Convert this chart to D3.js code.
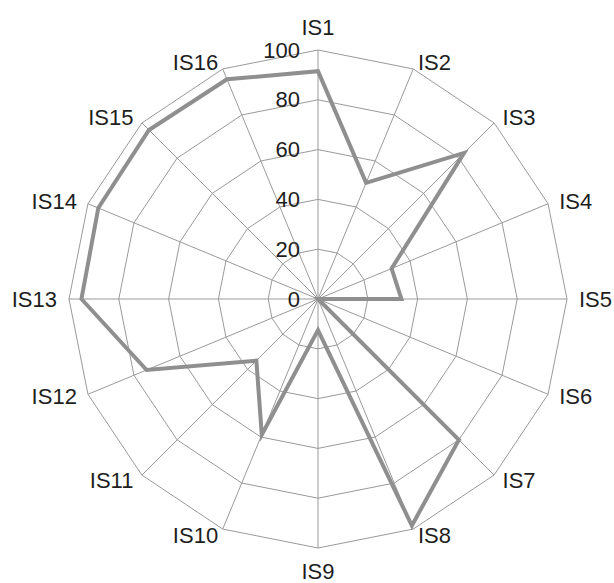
<!DOCTYPE html>
<html>
<head>
<meta charset="utf-8">
<script src="https://cdn.jsdelivr.net/npm/d3@7"></script>
<style>
  html, body { margin: 0; padding: 0; background: #fff; }
  svg text { font-family: "Liberation Sans", Arial, sans-serif; fill: #1e1e1e; }
</style>
</head>
<body>
<div id="radarDiv"></div>
<script>
// categories around the radar, clockwise from the top
var categories = ["IS1","IS2","IS3","IS4","IS5","IS6","IS7","IS8",
                  "IS9","IS10","IS11","IS12","IS13","IS14","IS15","IS16"];

// series values
var values = [91.5, 50.5, 83, 32, 33.5, 0, 80, 98.5,
              12.5, 59, 35, 74.5, 95, 95.5, 96, 95.5];

// ring ticks
var ticks = [0, 20, 40, 60, 80, 100];

var outerWidth = 614, outerHeight = 583;
var cx = 318, cy = 299, radius = 249;

var svg = d3.select("#radarDiv")
    .append("svg")
    .attr("width", outerWidth)
    .attr("height", outerHeight);

var g = svg.append("g")
    .attr("transform", "translate(" + cx + "," + cy + ")");

// radial scale
var r = d3.scaleLinear()
    .domain([0, 100])
    .range([0, radius]);

// angle scale, one step per category
var angle = d3.scaleLinear()
    .domain([0, categories.length])
    .range([0, 2 * Math.PI]);

function px(i, v) { return r(v) * Math.sin(angle(i)); }
function py(i, v) { return -r(v) * Math.cos(angle(i)); }

// ring polygons
var ringLine = d3.line()
    .x(function(d) { return d[0]; })
    .y(function(d) { return d[1]; })
    .curve(d3.curveLinearClosed);

g.selectAll(".ring")
    .data(ticks.slice(1))
    .enter().append("path")
    .attr("class", "ring")
    .attr("d", function(t) {
        return ringLine(categories.map(function(c, i) { return [px(i, t), py(i, t)]; }));
    })
    .style("fill", "none")
    .style("stroke", "#9a9a9a")
    .style("stroke-width", 1);

// spokes
g.selectAll(".spoke")
    .data(categories)
    .enter().append("line")
    .attr("class", "spoke")
    .attr("x1", 0).attr("y1", 0)
    .attr("x2", function(d, i) { return px(i, 100); })
    .attr("y2", function(d, i) { return py(i, 100); })
    .style("stroke", "#9a9a9a")
    .style("stroke-width", 1);

// data polygon
var dataLine = d3.lineRadial()
    .angle(function(d, i) { return angle(i); })
    .radius(function(d) { return r(d); })
    .curve(d3.curveLinearClosed);

g.append("path")
    .attr("class", "series")
    .attr("d", dataLine(values))
    .style("fill", "none")
    .style("stroke", "#8f8f8f")
    .style("stroke-width", 4)
    .style("stroke-linejoin", "miter");

// tick labels, to the left of the top spoke
g.selectAll(".tickLabel")
    .data(ticks)
    .enter().append("text")
    .attr("class", "tickLabel")
    .attr("x", -18)
    .attr("y", function(t) { return -r(t); })
    .attr("text-anchor", "end")
    .attr("dominant-baseline", "central")
    .style("font-size", "22px")
    .text(function(t) { return t; });

// category labels
var labelRx = radius + 12, labelRy = radius + 7;
g.selectAll(".catLabel")
    .data(categories)
    .enter().append("text")
    .attr("class", "catLabel")
    .attr("x", function(d, i) { return labelRx * Math.sin(angle(i)); })
    .attr("y", function(d, i) {
        var uy = -Math.cos(angle(i)), ux = Math.sin(angle(i));
        var y = labelRy * uy;
        if (Math.abs(ux) < 0.01) y += uy * 16;
        return y;
    })
    .attr("text-anchor", function(d, i) {
        var ux = Math.sin(angle(i));
        return Math.abs(ux) < 0.01 ? "middle" : (ux > 0 ? "start" : "end");
    })
    .attr("dominant-baseline", "central")
    .style("font-size", "22px")
    .text(function(d) { return d; });
</script>
</body>
</html>
